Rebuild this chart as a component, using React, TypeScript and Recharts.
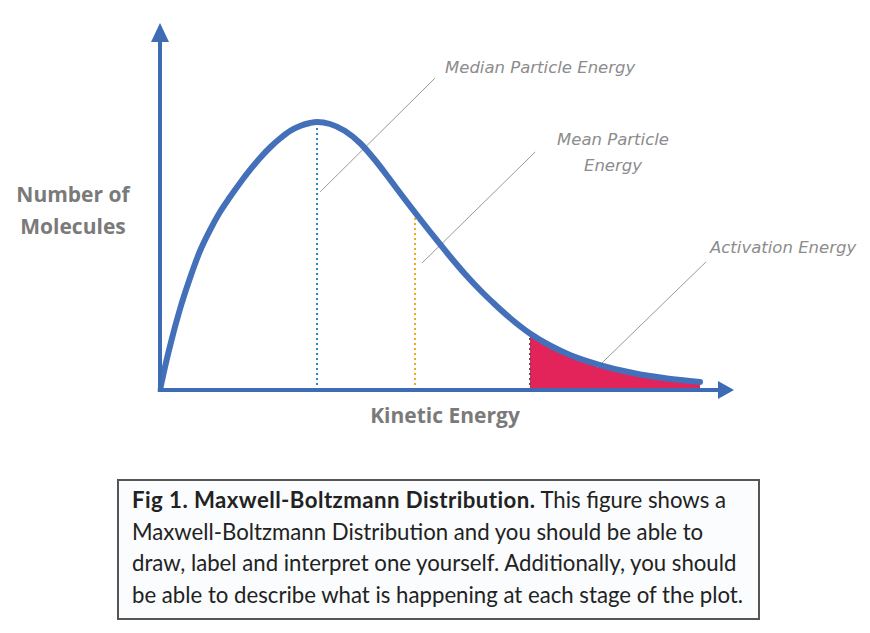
import React from 'react';
import {
  ComposedChart,
  Line,
  Area,
  XAxis,
  YAxis,
  ReferenceLine,
  ReferenceDot,
} from 'recharts';

// curve, energy 0..100 vs molecules 0..100
const energy = [
  0, 0.89, 1.79, 3.57, 5.36, 7.14, 8.93, 10.71, 12.5, 14.29, 16.07, 17.86, 19.64, 21.43, 23.21, 25, 26.79, 28.04,
  30.36, 33.04, 35.71, 38.39, 41.07, 43.75, 45.54, 49.11, 51.79, 54.46, 57.14, 59.82, 62.5, 66.07,
  69.64, 73.21, 78.57, 84.46, 90.54, 96.43,
];
const molecules = [
  0, 6.57, 12.57, 23.14, 32, 39.71, 45.71, 50.86, 55.14, 59.14, 62.86, 66.29, 69.29, 71.86, 74, 75.43, 76.29, 76.57,
  76, 74, 70.57, 65.71, 60.14, 54.43, 50.71, 43.43, 38.14, 33.14, 28.57, 24.43, 20.57, 16.14,
  12.71, 10, 7.14, 4.86, 3.29, 2.29,
];

const medianE = 28.04;
const meanE = 45.54;
const activationE = 66.07;

const curve = energy.map((e, i) => ({ e, n: molecules[i] }));
const tail = curve.filter((d) => d.e >= activationE);
const heightAt = (e: number) => curve.find((d) => d.e === e)?.n ?? 0;

const axisBlue = '#3d6cb4';
const curveBlue = '#4470ba';
const labelGrey = '#8c8c8c';

const arrowRight = (p: any) => (
  <polygon points={`${p.cx - 2},${p.cy - 9} ${p.cx + 14},${p.cy} ${p.cx - 2},${p.cy + 9}`} fill={axisBlue} />
);
const arrowUp = (p: any) => (
  <polygon points={`${p.cx - 9},${p.cy + 2} ${p.cx},${p.cy - 17} ${p.cx + 9},${p.cy + 2}`} fill={axisBlue} />
);

const note: React.CSSProperties = {
  position: 'absolute',
  fontFamily: 'DejaVu Sans, sans-serif',
  fontStyle: 'italic',
  fontSize: 16.5,
  color: labelGrey,
  whiteSpace: 'nowrap',
};
const axisTitle: React.CSSProperties = {
  position: 'absolute',
  fontFamily: 'Open Sans, sans-serif',
  fontWeight: 700,
  fontSize: 21,
  color: '#7a7a7a',
  textAlign: 'center',
  lineHeight: '32px',
};

export default function App() {
  return (
    <div style={{ position: 'relative', width: 870, height: 633, margin: -8, background: '#fff', overflow: 'hidden' }}>
      <ComposedChart
        width={870}
        height={440}
        margin={{ top: 40, right: 150, bottom: 50, left: 160 }}
      >
        <XAxis type="number" dataKey="e" domain={[0, 100]} hide allowDataOverflow />
        <YAxis type="number" dataKey="n" domain={[0, 100]} hide allowDataOverflow />
        <Area
          data={tail}
          dataKey="n"
          type="monotone"
          fill="#e2245a"
          fillOpacity={1}
          stroke="none"
          isAnimationActive={false}
        />
        <ReferenceLine segment={[{ x: medianE, y: 0 }, { x: medianE, y: heightAt(medianE) }]} stroke="#2f86c0" strokeWidth={2} strokeDasharray="2 3" />
        <ReferenceLine segment={[{ x: meanE, y: 0 }, { x: meanE, y: heightAt(meanE) }]} stroke="#f0a81c" strokeWidth={2} strokeDasharray="2 3" />
        <ReferenceLine segment={[{ x: activationE, y: 0 }, { x: activationE, y: heightAt(activationE) }]} stroke="#555" strokeWidth={2} strokeDasharray="2 3" />
        <ReferenceLine segment={[{ x: 28.6, y: 56.6 }, { x: 49.1, y: 89.1 }]} stroke="#9a9a9a" strokeWidth={1} />
        <ReferenceLine segment={[{ x: 46.8, y: 36.3 }, { x: 67, y: 68 }]} stroke="#9a9a9a" strokeWidth={1} />
        <ReferenceLine segment={[{ x: 78, y: 6.3 }, { x: 97.5, y: 36.6 }]} stroke="#9a9a9a" strokeWidth={1} ifOverflow="visible" />
        <Line
          data={curve}
          dataKey="n"
          type="monotone"
          stroke={curveBlue}
          strokeWidth={6}
          strokeLinecap="round"
          dot={false}
          isAnimationActive={false}
        />
        <ReferenceLine segment={[{ x: -0.4, y: 0 }, { x: 100, y: 0 }]} stroke={axisBlue} strokeWidth={4} ifOverflow="visible" />
        <ReferenceLine segment={[{ x: 0, y: -0.6 }, { x: 0, y: 100 }]} stroke={axisBlue} strokeWidth={4} ifOverflow="visible" />
        <ReferenceDot x={100} y={0} r={0} shape={arrowRight} ifOverflow="visible" />
        <ReferenceDot x={0} y={100} r={0} shape={arrowUp} ifOverflow="visible" />
      </ComposedChart>

      <div style={{ ...note, left: 445, top: 58 }}>Median Particle Energy</div>
      <div style={{ ...note, left: 543, top: 127, width: 140, textAlign: 'center', lineHeight: '26px', whiteSpace: 'normal' }}>
        Mean Particle<br />Energy
      </div>
      <div style={{ ...note, left: 710, top: 238 }}>Activation Energy</div>

      <div style={{ ...axisTitle, left: 8, top: 178, width: 130 }}>
        Number of<br />Molecules
      </div>
      <div style={{ ...axisTitle, left: 345, top: 399, width: 200 }}>Kinetic Energy</div>

      <div
        style={{
          position: 'absolute',
          left: 117,
          top: 479,
          width: 643,
          height: 141,
          boxSizing: 'border-box',
          border: '2px solid #555',
          background: '#fafcfd',
          padding: '3px 0 0 13px',
          fontFamily: 'Lato, sans-serif',
          fontSize: 22.2,
          lineHeight: '31.5px',
          color: '#222',
          whiteSpace: 'nowrap',
        }}
      >
        <b style={{ letterSpacing: 0.45 }}>Fig 1. Maxwell-Boltzmann Distribution.</b> This figure shows a<br />
        Maxwell-Boltzmann Distribution and you should be able to<br />
        draw, label and interpret one yourself. Additionally, you should<br />
        be able to describe what is happening at each stage of the plot.
      </div>
    </div>
  );
}
